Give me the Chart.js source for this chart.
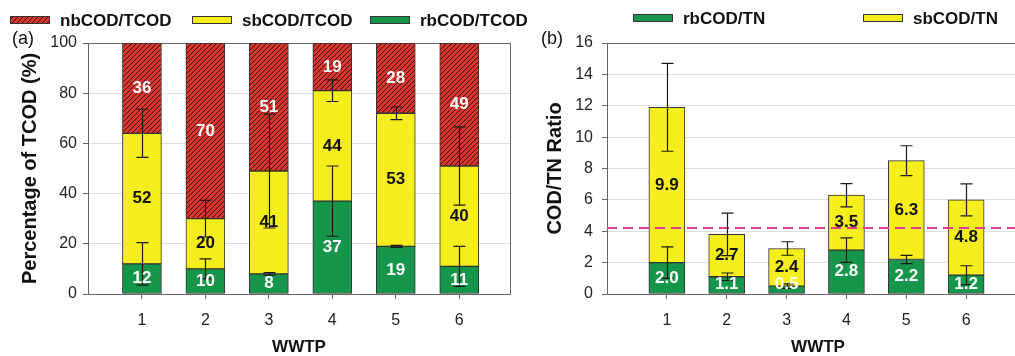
<!DOCTYPE html>
<html>
<head>
<meta charset="utf-8">
<script src="https://cdn.jsdelivr.net/npm/chart.js@4.4.0/dist/chart.umd.min.js"></script>
<style>
  html, body { margin: 0; padding: 0; background: #fff; overflow: hidden; }
  #wrap { position: relative; width: 1015px; height: 356px; overflow: hidden; }
  #chartA { position: absolute; left: 0; top: 0; }
  #chartB { position: absolute; left: 520px; top: 0; }
</style>
</head>
<body>
<div id="wrap">
  <canvas id="chartA" width="540" height="356"></canvas>
  <canvas id="chartB" width="530" height="356"></canvas>
</div>
<script>
const wwtp = [1, 2, 3, 4, 5, 6];

// (a) share of TCOD, %
const rbTcod = [12, 10, 8, 37, 19, 11];
const sbTcod = [52, 20, 41, 44, 53, 40];
const nbTcod = [36, 70, 51, 19, 28, 49];
const rbTcodErr = [8.5, 4, 0.5, 14, 0.4, 8];
const sbTcodErr = [9.6, 7.3, 22.7, 4.3, 2.5, 15.6];   // on rb+sb total

// (b) COD/TN ratio
const rbTn = [2.0, 1.1, 0.5, 2.8, 2.2, 1.2];
const sbTn = [9.9, 2.7, 2.4, 3.5, 6.3, 4.8];
const rbTnErr = [1.0, 0.24, 0.15, 0.78, 0.26, 0.6];
const sbTnErr = [2.8, 1.36, 0.43, 0.74, 0.95, 1.02];   // on rb+sb total
const tnLimit = 4.2;

const FONT = "'Liberation Sans', Arial, sans-serif";
Chart.defaults.font.family = FONT;

const GREEN = '#16964a';
const YELLOW = '#f6ee1c';
const EDGE = '#333';

function hatch() {
    const n = 5;
    const c = document.createElement('canvas');
    c.width = n; c.height = n;
    const g = c.getContext('2d');
    g.fillStyle = '#dc352e';
    g.fillRect(0, 0, n, n);
    g.strokeStyle = '#3a1411';
    g.lineWidth = 1;
    g.beginPath();
    g.moveTo(0, n); g.lineTo(n, 0);
    g.moveTo(-1, 1); g.lineTo(1, -1);
    g.moveTo(n - 1, n + 1); g.lineTo(n + 1, n - 1);
    g.stroke();
    return g.createPattern(c, 'repeat');
}

const pts = vals => wwtp.map((w, i) => ({ x: w, y: vals[i] }));

// error bars, segment labels, legend row and panel tag
const extras = {
    id: 'extras',
    afterDatasetsDraw(chart, args, opts) {
        const ctx = chart.ctx;
        const ys = chart.scales.y;
        const unit = Math.abs(ys.getPixelForValue(0) - ys.getPixelForValue(1));
        ctx.save();
        ctx.strokeStyle = '#1a1a1a';
        ctx.lineWidth = 1.2;
        opts.errors.forEach(e => {
            chart.getDatasetMeta(e.on).data.forEach((bar, i) => {
                const d = e.vals[i] * unit;
                const x = Math.round(bar.x) + 0.5;
                ctx.beginPath();
                ctx.moveTo(x, bar.y - d); ctx.lineTo(x, bar.y + d);
                ctx.moveTo(x - 6, bar.y - d); ctx.lineTo(x + 6, bar.y - d);
                ctx.moveTo(x - 6, bar.y + d); ctx.lineTo(x + 6, bar.y + d);
                ctx.stroke();
            });
        });
        ctx.font = 'bold 17px ' + FONT;
        ctx.textAlign = 'center';
        ctx.textBaseline = 'middle';
        chart.data.datasets.forEach((ds, k) => {
            if (!ds.labelColor) return;
            ctx.fillStyle = ds.labelColor;
            chart.getDatasetMeta(k).data.forEach((bar, i) => {
                const yc = Math.min((bar.y + bar.base) / 2, bar.base - 9);
                ctx.fillText(ds.data[i].y.toFixed(opts.decimals), bar.x, yc);
            });
        });
        ctx.restore();
    },
    afterDraw(chart, args, opts) {
        const ctx = chart.ctx;
        ctx.save();
        ctx.textBaseline = 'middle';
        ctx.textAlign = 'left';
        opts.legend.order.forEach((k, j) => {
            const ds = chart.data.datasets[k];
            const x = opts.legend.xs[j], y = opts.legend.y;
            ctx.fillStyle = ds.backgroundColor;
            ctx.fillRect(x, y - 4, 40, 8);
            ctx.strokeStyle = EDGE;
            ctx.lineWidth = 1;
            ctx.strokeRect(x + 0.5, y - 3.5, 39, 7);
            ctx.fillStyle = '#111';
            ctx.font = 'bold 17px ' + FONT;
            ctx.fillText(ds.label, x + 50, y + 1);
        });
        ctx.font = '18px ' + FONT;
        ctx.fillStyle = '#111';
        ctx.fillText(opts.tag.text, opts.tag.x, opts.tag.y);
        ctx.restore();
    }
};

function panel(id, cfg) {
    const xs = {
        type: 'linear', min: cfg.xMin, max: cfg.xMax, stacked: true, offset: false,
        afterBuildTicks: s => { s.ticks = wwtp.map(v => ({ value: v })); },
        grid: { drawOnChartArea: false, offset: false, tickLength: 5, color: '#666' },
        border: { color: '#666' },
        ticks: { font: { size: 16 }, color: '#222', padding: 12, maxRotation: 0, autoSkip: false },
        title: { display: true, text: 'WWTP', color: '#111',
                 font: { size: 17, weight: 'bold', lineHeight: 1 }, padding: { top: 0, bottom: 0 } },
        afterFit: s => { s.height = 62; }
    };
    const scales = {
        x: xs,
        y: {
            stacked: true, min: 0, max: cfg.yMax,
            ticks: { stepSize: cfg.yStep, font: { size: 16 }, color: '#222', padding: cfg.tickPad },
            grid: { color: c => c.tick && c.tick.value === cfg.yMax ? '#666' : '#dedede',
                    tickColor: '#666', tickLength: 5 },
            border: { color: '#666' },
            title: { display: true, text: cfg.yTitle, color: '#111',
                     font: { size: 20, weight: 'bold' }, padding: { top: cfg.titlePad } },
            afterFit: s => { s.width = cfg.yWidth; }
        }
    };
    if (cfg.rightBorder) {
        scales.y2 = {
            position: 'right', min: 0, max: 1,
            ticks: { display: false }, grid: { display: false },
            border: { display: true, color: '#666' },
            afterFit: s => { s.width = 0; }
        };
    }
    return new Chart(document.getElementById(id), {
        type: 'bar',
        data: { datasets: cfg.datasets },
        options: {
            responsive: false,
            animation: false,
            layout: { padding: { top: 43, right: cfg.padRight, left: 0, bottom: 0 } },
            scales: scales,
            plugins: {
                legend: { display: false },
                tooltip: { enabled: false },
                extras: { errors: cfg.errors, decimals: cfg.decimals, legend: cfg.legend, tag: cfg.tag }
            }
        },
        plugins: [extras]
    });
}

const bar = (label, vals, color, textColor, w) => ({
    label: label, data: pts(vals), backgroundColor: color, borderColor: EDGE,
    borderWidth: 1, borderSkipped: false, barThickness: w, labelColor: textColor
});

panel('chartA', {
    xMin: 0.15, xMax: 6.8, yMax: 100, yStep: 20, yWidth: 88, padRight: 30,
    tickPad: 6, titlePad: 18, rightBorder: true, decimals: 0,
    yTitle: 'Percentage of TCOD (%)',
    datasets: [
        bar('rbCOD/TCOD', rbTcod, GREEN, '#fff', 39),
        bar('sbCOD/TCOD', sbTcod, YELLOW, '#111', 39),
        bar('nbCOD/TCOD', nbTcod, hatch(), '#fff', 39)
    ],
    errors: [{ on: 0, vals: rbTcodErr }, { on: 1, vals: sbTcodErr }],
    legend: { y: 20, xs: [10, 192, 370], order: [2, 1, 0] },
    tag: { text: '(a)', x: 12, y: 39 }
});

const xMaxB = 7.05;
panel('chartB', {
    xMin: 0, xMax: xMaxB, yMax: 16, yStep: 2, yWidth: 87, padRight: 21,
    tickPad: 9, titlePad: 23, rightBorder: false, decimals: 1,
    yTitle: 'COD/TN Ratio',
    datasets: [
        { type: 'line', label: 'limit', data: [{ x: 0, y: tnLimit }, { x: xMaxB, y: tnLimit }],
          borderColor: '#e63a95', borderWidth: 2, borderDash: [10, 6], pointRadius: 0, order: -1 },
        bar('rbCOD/TN', rbTn, GREEN, '#fff', 36),
        bar('sbCOD/TN', sbTn, YELLOW, '#111', 36)
    ],
    errors: [{ on: 1, vals: rbTnErr }, { on: 2, vals: sbTnErr }],
    legend: { y: 18, xs: [113, 343], order: [1, 2] },
    tag: { text: '(b)', x: 21, y: 39 }
});
</script>
</body>
</html>
